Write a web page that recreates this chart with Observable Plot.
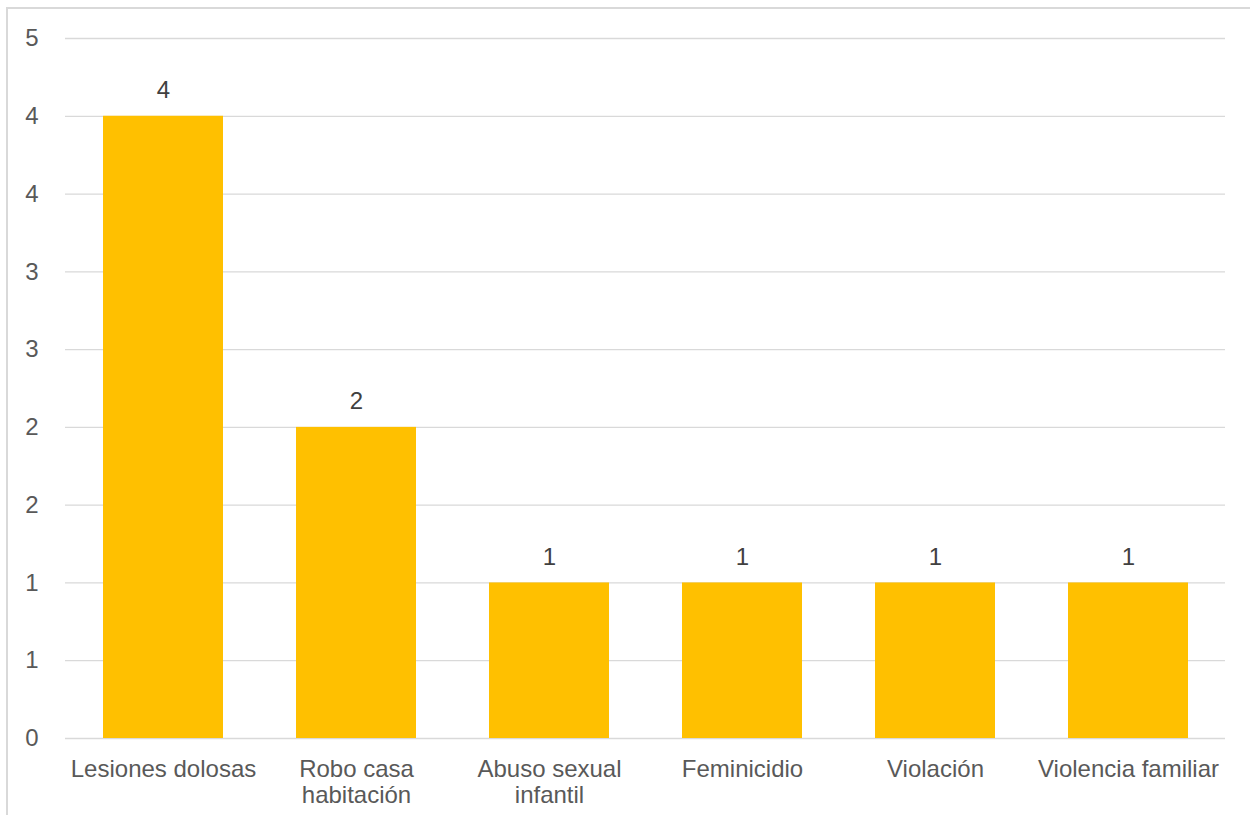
<!DOCTYPE html>
<html>
<head>
<meta charset="utf-8">
<script src="https://cdn.jsdelivr.net/npm/d3@7"></script>
<script src="https://cdn.jsdelivr.net/npm/@observablehq/plot@0.6"></script>
<style>
  html, body { margin: 0; padding: 0; background: #fff; overflow: hidden; }
  #wrap { position: relative; width: 1250px; height: 815px; }
  #frame { position: absolute; left: 6px; top: 7px; width: 1260px; height: 900px;
           border-left: 2px solid #d9d9d9; border-top: 2px solid #d9d9d9; box-sizing: border-box; }
  #chart { position: absolute; left: 0; top: 0; }
</style>
</head>
<body>
<div id="wrap"><div id="frame"></div><div id="chart"></div></div>
<script>
const categories = ["Lesiones dolosas", "Robo casa habitación", "Abuso sexual infantil", "Feminicidio", "Violación", "Violencia familiar"];
const categoryLabels = ["Lesiones dolosas", "Robo casa\nhabitación", "Abuso sexual\ninfantil", "Feminicidio", "Violación", "Violencia familiar"];
const values = [4, 2, 1, 1, 1, 1];
const valueLabels = ["4", "2", "1", "1", "1", "1"];
const yTicks = [0, 0.5, 1, 1.5, 2, 2.5, 3, 3.5, 4, 4.5];
const yTickLabels = ["0", "1", "1", "2", "2", "3", "3", "4", "4", "5"];

const data = categories.map((c, i) => ({cat: c, value: values[i], label: valueLabels[i]}));
const labelOf = new Map(categories.map((c, i) => [c, categoryLabels[i]]));
const yLabelOf = new Map(yTicks.map((t, i) => [t, yTickLabels[i]]));

const chart = Plot.plot({
  width: 1250,
  height: 815,
  marginLeft: 65,
  marginRight: 25,
  marginTop: 38,
  marginBottom: 77,
  style: {fontFamily: "'Liberation Sans', Arial, sans-serif", fontSize: "24px", color: "#595959", background: "transparent"},
  x: {domain: categories, paddingInner: 0.38, paddingOuter: 0.19, label: null},
  y: {domain: [0, 4.5], label: null},
  marks: [
    Plot.gridY(yTicks, {stroke: "#d9d9d9", strokeOpacity: 1, strokeWidth: 1.3}),
    Plot.barY(data, {x: "cat", y: "value", fill: "#FFC000"}),
    Plot.text(data, {x: "cat", y: "value", text: "label", dy: -26, fill: "#404040", fontSize: 24}),
    Plot.axisY(yTicks, {tickSize: 0, tickPadding: 27, tickFormat: d => yLabelOf.get(d), fill: "#595959", fontSize: 24, label: null}),
    Plot.axisX({tickSize: 0, tickPadding: 19, tickFormat: d => labelOf.get(d), fill: "#595959", fontSize: 24, lineHeight: 1.12, label: null})
  ]
});
document.getElementById("chart").appendChild(chart);
</script>
</body>
</html>
